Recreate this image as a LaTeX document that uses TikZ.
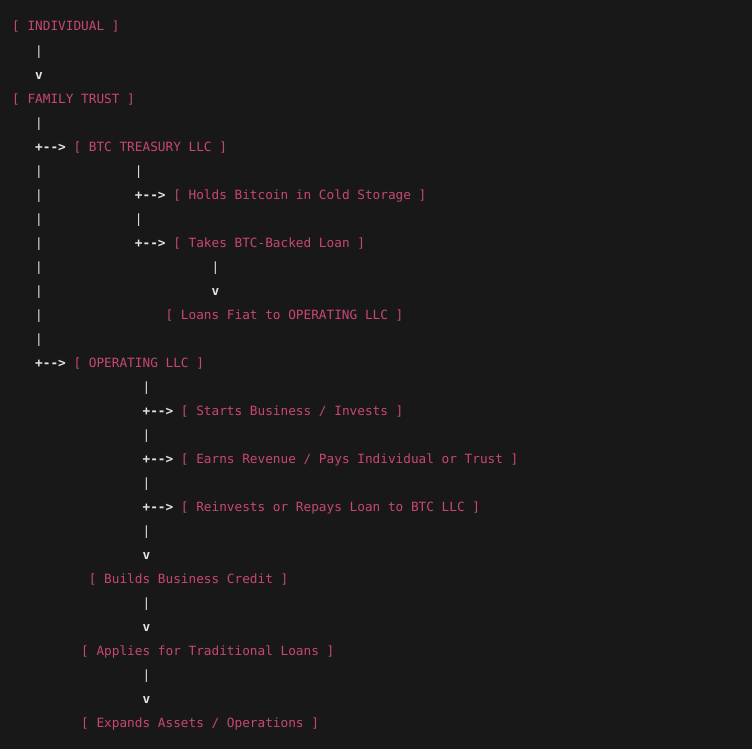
\documentclass[tikz,border=0pt]{standalone}
\usepackage{fontspec}
\newfontfamily\codefont{DejaVu Sans Mono}[Ligatures=TeXOff]

\definecolor{codebg}{HTML}{181818}
\definecolor{boxred}{HTML}{C84677}
\definecolor{wirewhite}{HTML}{E4E4E4}

\tikzset{
  every node/.style={anchor=base west, inner sep=0pt,
    font=\codefont\fontsize{12.74}{15}\selectfont},
  box/.style={text=boxred},
  wire/.style={text=wirewhite},
  tip/.style={text=wirewhite, font=\codefont\fontsize{12.74}{15}\selectfont\bfseries}
}

\begin{document}
\begin{tikzpicture}[x=7.67pt, y=-24pt]
    % one unit = one character column / one text row
    \fill[codebg] (-1.5645,-1.2917) rectangle (96.48,29.917);
    \useasboundingbox (-1.5645,-1.2917) rectangle (96.48,29.917);

    % top of the chain
    \node[box] (indiv) at (0,0) {[ INDIVIDUAL ]};
    \node[wire] (w1) at (3,1) {|};
    \node[tip] (v1) at (3,2) {v};
    \node[box] (trust) at (0,3) {[ FAMILY TRUST ]};

    % trunk under the trust
    \foreach \r in {4,6,7,8,9,10,11,12,13} {
        \node[wire] (trunk\r) at (3,\r) {|};
    }
    \node[tip] (a1) at (3,5) {+-->};
    \node[box] (btc) at (8,5) {[ BTC TREASURY LLC ]};

    % btc branch
    \node[wire] (w2) at (16,6) {|};
    \node[tip] (a2) at (16,7) {+-->};
    \node[box] (cold) at (21,7) {[ Holds Bitcoin in Cold Storage ]};
    \node[wire] (w3) at (16,8) {|};
    \node[tip] (a3) at (16,9) {+-->};
    \node[box] (loan) at (21,9) {[ Takes BTC-Backed Loan ]};
    \node[wire] (w4) at (26,10) {|};
    \node[tip] (v2) at (26,11) {v};
    \node[box] (fiat) at (20,12) {[ Loans Fiat to OPERATING LLC ]};

    \node[tip] (a4) at (3,14) {+-->};
    \node[box] (opllc) at (8,14) {[ OPERATING LLC ]};

    % operating branch
    \foreach \r in {15,17,19,21} {
        \node[wire] (op\r) at (17,\r) {|};
    }
    \node[tip] (a5) at (17,16) {+-->};
    \node[box] (starts) at (22,16) {[ Starts Business / Invests ]};
    \node[tip] (a6) at (17,18) {+-->};
    \node[box] (earns) at (22,18) {[ Earns Revenue / Pays Individual or Trust ]};
    \node[tip] (a7) at (17,20) {+-->};
    \node[box] (reinv) at (22,20) {[ Reinvests or Repays Loan to BTC LLC ]};

    % bottom chain
    \node[tip] (v3) at (17,22) {v};
    \node[box] (credit) at (10,23) {[ Builds Business Credit ]};
    \node[wire] (w5) at (17,24) {|};
    \node[tip] (v4) at (17,25) {v};
    \node[box] (apply) at (9,26) {[ Applies for Traditional Loans ]};
    \node[wire] (w6) at (17,27) {|};
    \node[tip] (v5) at (17,28) {v};
    \node[box] (expand) at (9,29) {[ Expands Assets / Operations ]};
\end{tikzpicture}
\end{document}
